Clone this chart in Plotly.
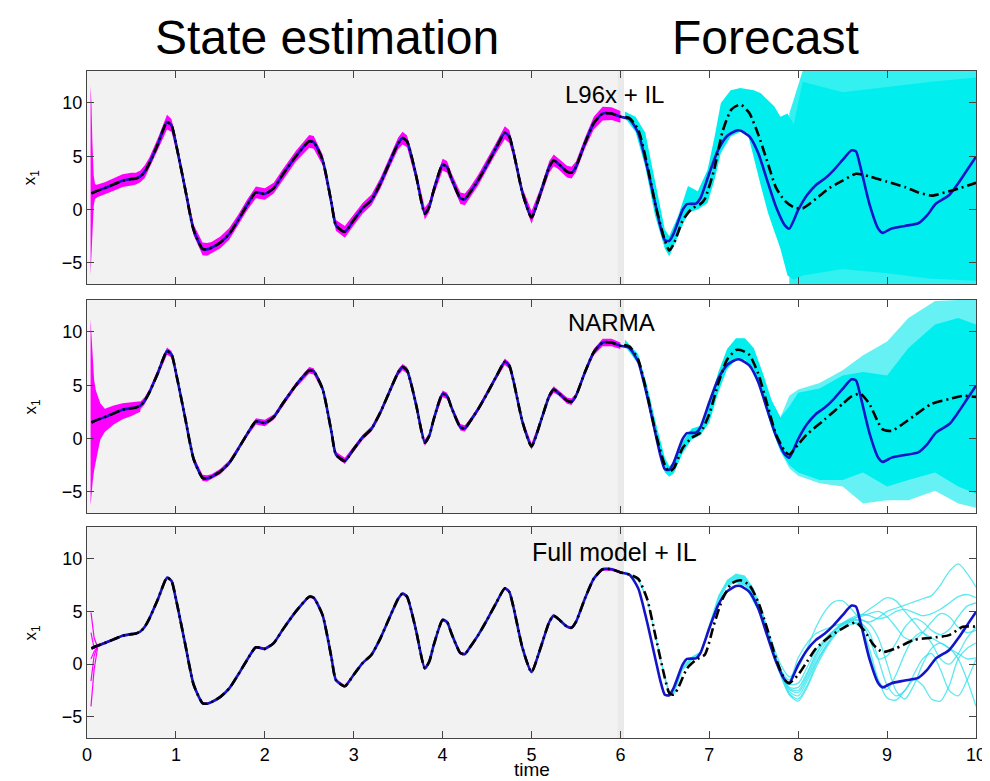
import plotly.graph_objects as go
from plotly.subplots import make_subplots

# ---------------- data ----------------
time_truth = [0.05, 0.1, 0.2, 0.3, 0.4, 0.5, 0.55, 0.6, 0.65, 0.7,
              0.8, 0.9, 0.95, 1.0, 1.1, 1.2, 1.3, 1.35, 1.4, 1.5,
              1.6, 1.7, 1.8, 1.9, 2.0, 2.1, 2.2, 2.35, 2.5, 2.55,
              2.65, 2.75, 2.8, 2.9, 3.0, 3.1, 3.2, 3.3, 3.4, 3.5,
              3.55, 3.6, 3.7, 3.8, 3.85, 3.9, 4.0, 4.05, 4.1, 4.2,
              4.25, 4.3, 4.4, 4.5, 4.6, 4.7, 4.75, 4.8, 4.9, 5.0,
              5.1, 5.2, 5.25, 5.3, 5.4, 5.45, 5.5, 5.6, 5.7, 5.8,
              5.9, 6.0,
              6.1, 6.2, 6.3, 6.4, 6.45, 6.5, 6.55, 6.6, 6.7, 6.75,
              6.85, 6.9, 7.0, 7.1, 7.2, 7.3, 7.35, 7.45, 7.55, 7.65,
              7.75, 7.85, 7.9, 8.0, 8.1, 8.2, 8.3, 8.4, 8.5, 8.6,
              8.65, 8.7, 8.8, 8.9, 8.95, 9.05, 9.2, 9.35, 9.45, 9.55,
              9.7, 9.8, 9.9, 10.0]
x1_truth = [1.5, 1.7, 2.0, 2.35, 2.7, 2.85, 2.9, 3.1, 3.55, 4.3,
            6.2, 8.2, 7.9, 6.2, 2.1, -1.95, -3.7, -3.75, -3.6, -3.1,
            -2.3, -1.0, 0.4, 1.6, 1.45, 2.0, 3.25, 5.0, 6.4, 6.3,
            4.65, 0.6, -1.5, -2.1, -1.0, 0.1, 0.9, 2.45, 4.35, 6.2,
            6.7, 6.4, 3.25, -0.4, 0.25, 1.8, 4.2, 4.0, 2.9, 1.05,
            0.95, 1.5, 2.75, 4.2, 5.75, 7.2, 6.85, 5.3, 1.5, -0.75,
            1.5, 4.0, 4.6, 4.3, 3.55, 3.45, 4.0, 6.2, 8.1, 9.0,
            9.0, 8.7,
            8.5, 7.2, 4.0, 0.25, -1.6, -2.9, -2.95, -2.25, -0.05, 0.5,
            0.55, 1.05, 3.4, 5.6, 6.9, 7.4, 7.4, 6.85, 5.3, 2.75,
            0.25, -1.5, -1.8, -0.05, 1.35, 2.3, 2.9, 3.7, 4.65, 5.55,
            5.45, 4.0, 0.55, -1.8, -2.2, -1.8, -1.55, -1.3, -0.55, 0.55,
            1.35, 2.45, 3.7, 4.95]
N_SE = 72  # number of truth samples inside the state-estimation window

# ensemble mean during state estimation (indistinguishable from truth)
mean_se = x1_truth[:N_SE]

# magenta analysis-ensemble half-spread, per panel (same times as truth in window)
spread_p1 = [0.9, 0.6, 0.55, 0.6, 0.6, 0.6, 0.55, 0.55, 0.6, 0.55,
             0.55, 0.7, 0.6, 0.55, 0.5, 0.5, 0.6, 0.6, 0.55, 0.55,
             0.55, 0.5, 0.5, 0.55, 0.55, 0.5, 0.5, 0.5, 0.6, 0.6,
             0.5, 0.5, 0.5, 0.55, 0.5, 0.5, 0.5, 0.5, 0.5, 0.55,
             0.6, 0.55, 0.5, 0.55, 0.5, 0.5, 0.55, 0.55, 0.5, 0.55,
             0.55, 0.5, 0.5, 0.5, 0.5, 0.6, 0.6, 0.5, 0.5, 0.6,
             0.5, 0.55, 0.55, 0.5, 0.55, 0.55, 0.5, 0.5, 0.6, 0.65,
             0.6, 0.55]
spread_p2 = [0.3, 0.3, 0.3, 0.3, 0.3, 0.3, 0.3, 0.35, 0.35, 0.3,
             0.3, 0.35, 0.3, 0.25, 0.25, 0.25, 0.3, 0.3, 0.25, 0.25,
             0.25, 0.25, 0.25, 0.3, 0.3, 0.25, 0.25, 0.25, 0.3, 0.3,
             0.25, 0.25, 0.25, 0.3, 0.25, 0.25, 0.25, 0.25, 0.25, 0.3,
             0.3, 0.3, 0.25, 0.3, 0.25, 0.25, 0.3, 0.3, 0.25, 0.3,
             0.3, 0.25, 0.25, 0.25, 0.25, 0.3, 0.3, 0.25, 0.25, 0.3,
             0.25, 0.3, 0.3, 0.25, 0.3, 0.3, 0.25, 0.25, 0.3, 0.35,
             0.35, 0.3]
spread_p3 = [0.15, 0.12, 0.1, 0.1, 0.1, 0.1, 0.1, 0.1, 0.1, 0.1,
             0.1, 0.12, 0.1, 0.1, 0.1, 0.1, 0.12, 0.12, 0.1, 0.1,
             0.1, 0.1, 0.1, 0.12, 0.12, 0.1, 0.1, 0.1, 0.12, 0.12,
             0.1, 0.1, 0.1, 0.12, 0.1, 0.1, 0.1, 0.1, 0.1, 0.12,
             0.12, 0.12, 0.1, 0.12, 0.1, 0.1, 0.12, 0.12, 0.1, 0.12,
             0.12, 0.1, 0.1, 0.1, 0.1, 0.12, 0.12, 0.1, 0.1, 0.12,
             0.1, 0.12, 0.12, 0.1, 0.12, 0.12, 0.1, 0.1, 0.12, 0.15,
             0.15, 0.12]

# initial magenta spikes
spike1_t = [0.04, 0.05, 0.06, 0.075, 0.09, 0.11]
spike1_hi = [11.6, 10.0, 6.5, 3.2, 2.4, 2.3]
spike1_lo = [-6.2, -5.0, -2.5, 0.3, 1.0, 1.1]
spike2_t = [0.04, 0.05, 0.065, 0.08, 0.1, 0.12, 0.15, 0.2, 0.3, 0.4, 0.5, 0.6]
spike2_hi = [11.2, 9.5, 7.5, 5.5, 4.5, 4.0, 3.3, 2.8, 3.1, 3.3, 3.4, 3.5]
spike2_lo = [-6.3, -5.5, -4.0, -3.0, -2.0, -1.3, -0.1, 0.6, 1.3, 1.8, 2.1, 2.5]
spike3_t = [0.045, 0.08, 0.12]
spike3_members = [[4.9, 2.5, 1.6], [-4.0, -0.5, 1.6], [-1.6, 0.8, 1.7],
                  [3.0, 1.5, 1.7], [0.5, 1.2, 1.65]]

# forecast ensemble means
mean1_t = [6.0, 6.1, 6.2, 6.3, 6.4, 6.5, 6.55, 6.6, 6.7, 6.8, 6.9, 6.95, 7.05,
           7.15, 7.25, 7.35, 7.45, 7.55, 7.65, 7.75, 7.85, 7.95, 8.05, 8.2,
           8.35, 8.5, 8.65, 8.8, 9.0, 9.2, 9.35, 9.5, 9.65, 9.8, 10.0]
mean1_v = [8.7, 8.6, 7.5, 4.25, 0.2, -2.9, -3.85, -3.25, -1.05, 0.05, 0.5, 1.0,
           3.6, 7.35, 9.4, 9.85, 9.05, 7.05, 4.55, 2.05, 0.8, 0.2, 0.1, 1.0,
           2.0, 2.7, 3.35, 3.1, 2.6, 2.1, 1.6, 1.3, 1.6, 1.95, 2.5]
mean2_t = [6.0, 6.1, 6.2, 6.3, 6.4, 6.5, 6.55, 6.6, 6.7, 6.8, 6.9, 7.0, 7.1,
           7.2, 7.3, 7.35, 7.45, 7.55, 7.65, 7.75, 7.85, 7.9, 8.0, 8.1, 8.3,
           8.5, 8.6, 8.7, 8.8, 8.9, 8.95, 9.05, 9.15, 9.3, 9.5, 9.7, 9.85, 10.0]
mean2_v = [8.8, 8.65, 7.4, 4.2, 0.4, -2.5, -3.1, -2.8, -0.9, 0.05, 0.55, 2.3,
           5.15, 7.4, 8.3, 8.3, 7.85, 6.1, 3.25, 0.4, -1.2, -1.5, -0.55, 0.4,
           1.8, 3.25, 3.95, 4.2, 3.25, 1.5, 0.85, 0.7, 1.2, 2.1, 3.25, 3.7,
           4.0, 3.9]
mean3_t = [6.0, 6.1, 6.2, 6.3, 6.4, 6.5, 6.55, 6.6, 6.65, 6.75, 6.85, 6.95,
           7.05, 7.15, 7.25, 7.35, 7.45, 7.55, 7.65, 7.75, 7.85, 7.9, 8.0,
           8.1, 8.2, 8.35, 8.5, 8.65, 8.75, 8.85, 8.95, 9.1, 9.3, 9.5, 9.7,
           9.85, 10.0]
mean3_v = [8.7, 8.5, 8.1, 6.2, 2.45, -1.3, -2.75, -2.9, -2.25, -0.4, 0.4, 0.9,
           3.7, 6.2, 7.65, 7.95, 7.5, 5.9, 3.4, 0.55, -1.5, -1.8, -1.0, 0.25,
           1.5, 2.6, 3.4, 3.95, 3.1, 1.8, 1.15, 1.5, 2.3, 2.5, 2.75, 3.55, 3.55]

# cyan forecast-ensemble envelopes
band1_t = [6.05, 6.17, 6.28, 6.39, 6.5, 6.55, 6.65, 6.76, 6.87, 6.98, 7.06,
           7.13, 7.24, 7.35, 7.43, 7.5, 7.58, 7.66, 7.73, 7.8, 7.88, 7.95,
           8.05, 8.5, 9.0, 9.5, 10.0]
band1_hi = [9.2, 8.7, 7.2, 2.8, -1.9, -2.5, -0.6, 2.2, 1.7, 3.7, 6.85, 10.0,
            11.2, 11.4, 11.3, 11.2, 10.9, 10.3, 9.7, 8.7, 9.0, 8.0, 12.0,
            11.0, 11.5, 12.0, 12.4]
band1_lo = [8.6, 7.3, 4.0, -0.6, -3.7, -4.4, -2.5, -0.3, 0.0, 0.6, 2.8, 5.3,
            6.85, 7.3, 7.2, 5.0, 2.2, -0.3, -1.9, -3.7, -6.2, -6.6, -6.2,
            -5.6, -6.0, -6.5, -6.7]
sparse1_t = [7.9, 8.05, 8.5, 9.0, 9.5, 10.0]
sparse1_hi = [9.0, 13.0, 13.0, 13.0, 13.0, 13.0]
sparse1_lo = [-7.0, -7.0, -7.0, -7.0, -7.0, -7.0]

band2_t = [6.05, 6.2, 6.3, 6.4, 6.5, 6.55, 6.6, 6.7, 6.8, 6.9, 7.0, 7.1, 7.2,
           7.3, 7.4, 7.5, 7.6, 7.7, 7.8, 7.9, 8.0, 8.24, 8.5, 8.73, 9.0,
           9.24, 9.54, 9.8, 10.0]
band2_hi = [9.3, 7.9, 5.0, 1.4, -1.8, -2.6, -2.2, -0.3, 0.9, 1.2, 3.2, 6.2,
            8.4, 9.4, 9.4, 8.5, 6.2, 3.6, 2.0, 3.0, 4.3, 4.7, 5.9, 6.25, 5.9,
            8.5, 10.7, 11.3, 10.7]
band2_lo = [8.7, 7.0, 3.6, -0.2, -3.2, -3.6, -3.3, -1.4, -0.1, 0.3, 1.5, 4.3,
            6.5, 7.4, 7.4, 6.5, 3.8, 1.0, -1.2, -2.5, -3.2, -3.9, -3.9, -3.2,
            -4.5, -3.9, -3.2, -4.5, -5.2]
sparse2_t = [7.8, 7.9, 8.0, 8.24, 8.5, 8.73, 9.0, 9.24, 9.54, 9.8, 10.0]
sparse2_hi = [2.0, 4.0, 4.6, 5.2, 6.4, 7.8, 9.1, 11.3, 12.9, 13.0, 13.0]
sparse2_lo = [-1.2, -2.8, -3.5, -4.2, -4.5, -6.1, -5.8, -5.8, -4.9, -6.1, -6.5]

band3_t = [6.05, 6.1, 6.2, 6.3, 6.4, 6.5, 6.55, 6.6, 6.7, 6.8, 6.9, 7.0, 7.1,
           7.2, 7.3, 7.4, 7.5, 7.6]
band3_hi = [8.8, 8.6, 8.2, 6.4, 2.7, -1.0, -2.5, -2.6, -0.2, 0.7, 1.2, 3.9,
            6.5, 8.0, 8.6, 8.4, 7.2, 5.0]
band3_lo = [8.6, 8.4, 7.9, 6.0, 2.2, -1.6, -2.9, -3.0, -0.6, 0.3, 0.8, 3.3,
            5.9, 7.4, 7.7, 7.4, 5.8, 4.3]
member_t = [7.6, 7.7, 7.8, 7.9, 8.0, 8.1, 8.2, 8.3, 8.4, 8.5, 8.6, 8.7, 8.8,
            8.9, 9.0, 9.1, 9.2, 9.3, 9.4, 9.5, 9.6, 9.7, 9.8, 9.9, 10.0]
members3 = [
    [4.8, 2.2, 0.0, -1.2, -0.3, 1.5, 3.5, 5.0, 5.9, 6.0, 5.2, 4.3, 4.0, 4.4, 5.0, 5.3, 5.6, 5.9, 6.2, 6.5, 7.5, 8.8, 9.5, 8.6, 7.3],
    [4.5, 1.7, -0.8, -2.3, -2.5, -1.0, 0.8, 2.2, 3.2, 3.9, 4.4, 4.7, 4.6, 4.3, 4.5, 5.0, 5.2, 4.9, 4.6, 4.8, 5.2, 5.8, 6.4, 6.6, 6.3],
    [4.6, 1.8, -0.7, -2.6, -3.0, -1.6, 0.2, 1.6, 2.8, 3.5, 4.0, 3.5, 1.0, -1.5, -2.4, -1.0, 1.0, 2.5, 3.0, 2.0, 0.5, 0.0, 1.0, 2.5, 3.5],
    [4.4, 1.6, -0.9, -2.8, -3.3, -2.0, 0.0, 1.5, 2.7, 3.4, 3.8, 3.9, 3.0, 0.5, -2.0, -3.0, -2.5, -1.0, 0.5, 1.0, -0.5, -2.5, -3.0, -1.5, 0.5],
    [4.7, 1.9, -0.5, -1.9, -1.8, -0.3, 1.3, 2.4, 3.2, 3.8, 4.2, 4.0, 2.5, 0.5, 0.8, 2.0, 3.5, 4.3, 4.0, 3.2, 2.8, 3.3, 4.5, 5.5, 5.8],
    [4.5, 1.7, -0.8, -2.4, -2.7, -1.3, 0.5, 1.9, 3.0, 3.7, 4.1, 4.2, 3.8, 2.5, 0.0, -2.5, -3.3, -2.0, 0.0, 1.5, 2.0, 1.5, 0.5, -1.5, -4.0],
    [4.6, 1.8, -0.6, -2.2, -2.2, -0.8, 1.0, 2.2, 3.1, 3.8, 4.3, 4.5, 4.8, 5.0, 4.5, 3.5, 2.5, 2.3, 3.0, 4.0, 4.8, 4.5, 3.5, 3.0, 3.2],
    [4.4, 1.5, -1.0, -2.9, -3.5, -2.2, -0.3, 1.3, 2.6, 3.5, 4.0, 3.6, 1.5, -1.5, -3.2, -3.4, -2.5, -1.5, -2.0, -3.3, -3.5, -2.0, 0.5, 1.5, 2.0],
    [4.6, 1.8, -0.5, -1.5, 0.6, 2.0, 2.9, 3.3, 3.6, 3.9, 4.2, 4.6, 5.2, 5.8, 6.3, 6.0, 5.0, 4.0, 3.0, 2.5, 2.0, 1.5, 1.0, 0.5, 0.6],
]

panel_labels = ["L96x + IL", "NARMA", "Full model + IL"]
label_pos = [(5.93, 10.8), (5.9, 10.9), (5.93, 10.6)]
x_ticks = [0, 1, 2, 3, 4, 5, 6, 7, 8, 9, 10]
y_ticks = [-5, 0, 5, 10]

# ---------------- styles ----------------
FONT = "Liberation Sans, Arial, Helvetica, sans-serif"
MAGENTA = "#ff00ff"
CYAN = "rgb(0,238,238)"
CYAN_LIGHT1 = "rgba(0,236,238,0.8)"
CYAN_LIGHT2 = "rgba(0,232,238,0.6)"
CYAN_LINE = "rgba(40,225,235,0.75)"
BLUE = "#1414c8"
DASHDOT = "10px,4px,2px,4px"

fig = make_subplots(rows=3, cols=1)


def band(t, hi, lo, color, row):
    fig.add_trace(go.Scatter(x=list(t) + list(t)[::-1], y=list(hi) + list(lo)[::-1],
                             fill="toself", fillcolor=color, mode="lines",
                             line=dict(width=0, color=color), hoverinfo="skip",
                             showlegend=False), row=row, col=1)


se_t = time_truth[:N_SE]
spreads = [spread_p1, spread_p2, spread_p3]
means_t = [mean1_t, mean2_t, mean3_t]
means_v = [mean1_v, mean2_v, mean3_v]

for i in range(3):
    row = i + 1
    # magenta analysis ensemble
    sp = spreads[i]
    hi = [v + s for v, s in zip(x1_truth[:N_SE], sp)]
    lo = [v - s for v, s in zip(x1_truth[:N_SE], sp)]
    band(se_t, hi, lo, MAGENTA, row)
    if i == 0:
        band(spike1_t, spike1_hi, spike1_lo, MAGENTA, row)
    elif i == 1:
        band(spike2_t, spike2_hi, spike2_lo, MAGENTA, row)
    else:
        for m in spike3_members:
            fig.add_trace(go.Scatter(x=spike3_t, y=m, mode="lines",
                                     line=dict(color=MAGENTA, width=1.2),
                                     hoverinfo="skip", showlegend=False), row=row, col=1)
    # cyan forecast ensemble
    if i == 0:
        band(sparse1_t, sparse1_hi, sparse1_lo, CYAN_LIGHT1, row)
        band(band1_t, band1_hi, band1_lo, CYAN, row)
    elif i == 1:
        band(sparse2_t, sparse2_hi, sparse2_lo, CYAN_LIGHT2, row)
        band(band2_t, band2_hi, band2_lo, CYAN, row)
    else:
        band(band3_t, band3_hi, band3_lo, "rgba(0,230,238,0.75)", row)
        for m in members3:
            fig.add_trace(go.Scatter(x=member_t, y=m, mode="lines",
                                     line=dict(color=CYAN_LINE, width=1.3, shape="spline", smoothing=0.8),
                                     hoverinfo="skip", showlegend=False), row=row, col=1)
    # truth
    fig.add_trace(go.Scatter(x=time_truth, y=x1_truth, mode="lines",
                             line=dict(color=BLUE, width=2.6, shape="spline", smoothing=0.6),
                             hoverinfo="skip", showlegend=False), row=row, col=1)
    # ensemble mean
    fig.add_trace(go.Scatter(x=se_t + means_t[i], y=mean_se + means_v[i], mode="lines",
                             line=dict(color="black", width=2.6, dash=DASHDOT,
                                       shape="spline", smoothing=0.6),
                             hoverinfo="skip", showlegend=False), row=row, col=1)

domains = [[0.6807, 1.0], [0.3373, 0.6567], [0.0, 0.3163]]
axis_common = dict(showline=True, linecolor="#444", linewidth=1, mirror="ticks",
                   ticks="inside", ticklen=7, tickcolor="#444", showgrid=False,
                   zeroline=False, tickfont=dict(family=FONT, size=18, color="black"))

for i in range(3):
    xa = "xaxis" if i == 0 else f"xaxis{i + 1}"
    ya = "yaxis" if i == 0 else f"yaxis{i + 1}"
    fig.layout[xa].update(range=[0, 10], tickvals=x_ticks, showticklabels=(i == 2), **axis_common)
    fig.layout[ya].update(range=[-7, 13], tickvals=y_ticks, domain=domains[i],
                          ticktext=[str(v).replace("-", "\u2212") for v in y_ticks], **axis_common)
    xr = "x" if i == 0 else f"x{i + 1}"
    yr = "y" if i == 0 else f"y{i + 1}"
    fig.add_shape(type="rect", xref=xr, yref=f"{yr} domain", x0=0, x1=6.0, y0=0, y1=1,
                  fillcolor="#f2f2f2", line=dict(width=0), layer="below")
    fig.add_shape(type="rect", xref=xr, yref=f"{yr} domain", x0=5.97, x1=6.04, y0=0, y1=1,
                  fillcolor="#eaeaea", line=dict(width=0), layer="below")
    fig.add_annotation(x=label_pos[i][0], y=label_pos[i][1], xref=xr, yref=yr,
                       text=panel_labels[i], showarrow=False,
                       font=dict(family=FONT, size=24 if i < 2 else 25, color="black"),
                       xanchor="center", yanchor="middle")
    mid = (domains[i][0] + domains[i][1]) / 2
    fig.add_annotation(x=-0.062, y=mid, xref="paper", yref="paper",
                       text="x<sub>1</sub>", showarrow=False, textangle=-90,
                       font=dict(family=FONT, size=17, color="black"),
                       xanchor="center", yanchor="middle")

fig.add_annotation(x=0.5, y=-0.066, xref="paper", yref="paper", text="time",
                   showarrow=False, font=dict(family=FONT, size=19, color="black"),
                   xanchor="center", yanchor="bottom")
fig.add_annotation(x=0.270, y=1.0495, xref="paper", yref="paper", text="State estimation",
                   showarrow=False, font=dict(family=FONT, size=48, color="black"),
                   xanchor="center", yanchor="middle")
fig.add_annotation(x=0.7635, y=1.0495, xref="paper", yref="paper", text="Forecast",
                   showarrow=False, font=dict(family=FONT, size=48, color="black"),
                   xanchor="center", yanchor="middle")

fig.update_layout(width=990, height=781, margin=dict(l=79, r=19, t=63, b=51),
                  plot_bgcolor="white", paper_bgcolor="white", showlegend=False,
                  font=dict(family=FONT))
fig.write_html("out.html")
